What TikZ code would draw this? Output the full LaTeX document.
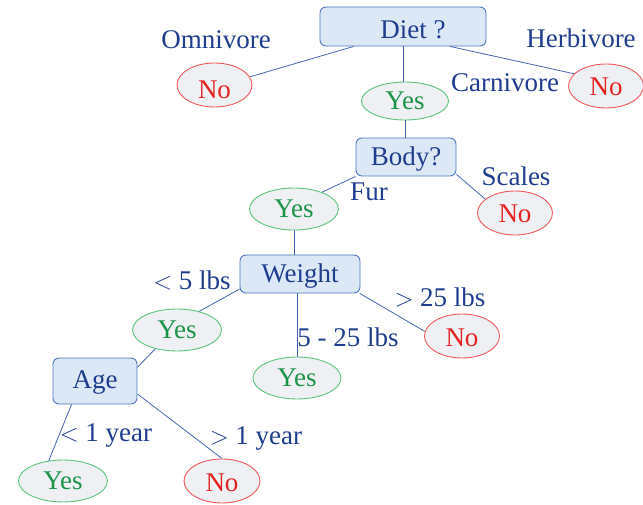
\documentclass[tikz,border=0pt]{standalone}
\usepackage{fontspec}
\setmainfont{Liberation Serif}
\usetikzlibrary{shapes.geometric}
\definecolor{txtblue}{HTML}{1F3D8F}
\definecolor{nored}{HTML}{E52222}
\definecolor{yesgreen}{HTML}{1B9448}
\definecolor{ellfill}{HTML}{EEF0F3}
\definecolor{redline}{HTML}{F0595A}
\definecolor{greenline}{HTML}{5CC57C}
\definecolor{boxfill}{HTML}{DCE8F5}
\definecolor{boxline}{HTML}{4F78C4}
\definecolor{edgecol}{HTML}{4466B0}
\begin{document}
\begin{tikzpicture}[x=1pt,y=-1pt,
  every node/.style={font=\fontsize{27}{31}\selectfont, inner sep=0pt},
  question/.style={draw=boxline, fill=boxfill, rounded corners=6pt, line width=0.9pt,
    text=txtblue, minimum height=38pt, text height=18pt, text depth=0pt},
  leafno/.style={ellipse, draw=redline, fill=ellfill, line width=0.9pt, text=nored,
    minimum width=75pt, minimum height=44pt, text height=20pt, text depth=0pt},
  leafyes/.style={ellipse, draw=greenline, fill=ellfill, line width=0.9pt, text=yesgreen,
    minimum width=89pt, minimum height=42pt, text height=17pt, text depth=0pt},
  branch/.style={text=txtblue, anchor=base},
  edge/.style={draw=edgecol, line width=0.8pt}]
\useasboundingbox (0,0) rectangle (643,505);

% decision boxes
\node[question, minimum width=166pt, minimum height=39pt, text height=25pt] (diet) at (403,26.5) {\hspace*{20pt}Diet ?};
\node[question, minimum width=100pt] (body) at (406,157) {Body?};
\node[question, minimum width=120pt] (weight) at (300,274) {Weight};
\node[question, minimum width=84pt, minimum height=46pt, text height=14pt] (age) at (95,381) {Age};

% outcomes
\node[leafno, text height=28pt] (no1) at (214.5,85) {No};
\node[leafno] (no2) at (606,86) {No};
\node[leafyes, minimum width=87pt, minimum height=38pt] (yes1) at (405,101) {Yes};
\node[leafyes] (yes2) at (294,209) {Yes};
\node[leafno] (no3) at (515,213) {No};
\node[leafyes] (yes3) at (177,330) {Yes};
\node[leafno] (no4) at (462,336) {No};
\node[leafyes, minimum width=88pt] (yes4) at (297,378) {Yes};
\node[leafyes] (yes5) at (63,481) {Yes};
\node[leafno, minimum width=76pt] (no5) at (222,481) {No};

% branch labels
\node[branch] (lomni) at (216,49) {Omnivore};
\node[branch] (lherb) at (581,48) {Herbivore};
\node[branch] (lcarn) at (505,92) {Carnivore};
\node[branch] (lfur) at (369,201) {Fur};
\node[branch] (lscal) at (516,186) {Scales};
\node[branch] (llt5) at (192,290) {$<$ 5 lbs};
\node[branch] (lgt25) at (440,306) {$>$ 25 lbs};
\node[branch] (lmid) at (348,346) {5 - 25 lbs};
\node[branch] (llt1) at (106,441) {$<$ 1 year};
\node[branch] (lgt1) at (256,444) {$>$ 1 year};

% connectors
\draw[edge] (diet.202) -- (no1.13);
\draw[edge] (diet.south) -- (diet.south |- yes1.north);
\draw[edge] (diet.337.5) -- (no2.159);
\draw[edge] (yes1.south) -- (yes1.south |- body.north);
\draw[edge] (body.south west) -- (yes2.31);
\draw[edge] (body.341) -- (no3.155);
\draw[edge] (yes2.south) -- (yes2.south |- weight.north);
\draw[edge] (weight.194) -- (yes3.40);
\draw[edge] (yes4.north |- weight.south) -- (yes4.north);
\draw[edge] (weight.342) -- (no4.173);
\draw[edge] (yes3.221) -- (age.18);
\draw[edge] (age.225) -- (yes5.125);
\draw[edge] (age.343) -- (no5.north);
\end{tikzpicture}
\end{document}
